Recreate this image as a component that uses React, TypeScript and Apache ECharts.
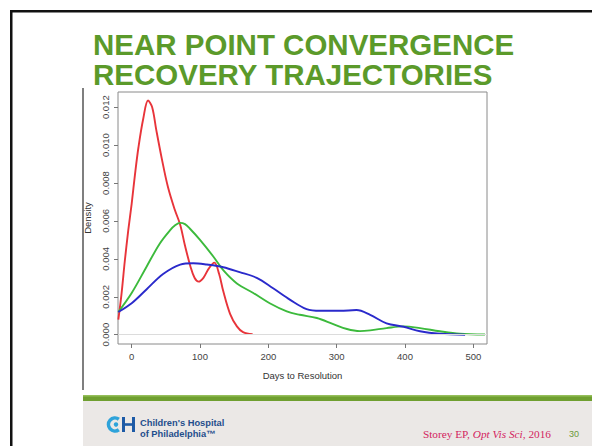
import React, { useEffect, useRef } from "react";
import * as echarts from "echarts";

// ---- Data (days to resolution vs. density) ----
const redDays = [-19.5, -15, -10, -5, 0, 5, 10, 17, 24, 30, 36, 44, 53, 63, 71, 78, 86, 92, 98, 105, 113, 121, 128, 134, 144, 154, 163, 177];
const redDensity = [0.0008, 0.0021, 0.0039, 0.0055, 0.0069, 0.0085, 0.0099, 0.0114, 0.01235, 0.012, 0.0108, 0.0093, 0.0078, 0.0066, 0.0058, 0.0047, 0.0036, 0.003, 0.0028, 0.003, 0.0035, 0.0038, 0.0032, 0.0023, 0.0011, 0.00044, 0.00014, 0.00003];

const greenDays = [-19.5, 0, 22, 41, 56, 64, 71, 78, 85, 100, 120, 134, 154, 178, 202, 227, 246, 271, 295, 315, 334, 349, 373, 398, 422, 451, 480, 517];
const greenDensity = [0.0012, 0.0022, 0.0036, 0.0048, 0.0055, 0.00578, 0.0059, 0.00583, 0.0056, 0.005, 0.0041, 0.0034, 0.0027, 0.0022, 0.00166, 0.00123, 0.00105, 0.00088, 0.00056, 0.0003, 0.00019, 0.00023, 0.00035, 0.00044, 0.00035, 0.00018, 0.00005, 0.00001];

const blueDays = [-19.5, 0, 22, 46, 71, 90, 110, 134, 158, 183, 207, 232, 256, 276, 305, 329, 349, 373, 398, 422, 451, 488];
const blueDensity = [0.0012, 0.00166, 0.0024, 0.0032, 0.0037, 0.00377, 0.0037, 0.00356, 0.0033, 0.003, 0.00245, 0.00184, 0.00135, 0.00126, 0.00126, 0.0013, 0.00105, 0.0006, 0.00042, 0.00018, 0.00005, 0.0];

const xTicks = [0, 100, 200, 300, 400, 500];
const yTicks = [0, 0.002, 0.004, 0.006, 0.008, 0.01, 0.012];

const titleLines = ["NEAR POINT CONVERGENCE", "RECOVERY TRAJECTORIES"];
const xName = "Days to Resolution";
const yName = "Density";

const pairs = (xs: number[], ys: number[]) => xs.map((x, i) => [x, ys[i]]);

export default function App() {
  const ref = useRef<HTMLDivElement>(null);

  useEffect(() => {
    if (!ref.current) return;
    const chart = echarts.init(ref.current, null, { renderer: "svg" });
    const axisFont = "'Liberation Sans', Arial, sans-serif";

    const lineSeries = (name: string, data: number[][], color: string) => ({
      name,
      type: "line",
      data,
      smooth: 0.35,
      showSymbol: false,
      symbol: "none",
      lineStyle: { color, width: 1.9 },
      z: 3,
    });

    chart.setOption({
      animation: false,
      backgroundColor: "#ffffff",
      grid: {
        left: 118,
        top: 92,
        width: 369,
        height: 252,
        show: true,
        borderColor: "#8a8a8a",
        borderWidth: 1,
        backgroundColor: "transparent",
      },
      xAxis: {
        type: "value",
        min: -20,
        max: 520,
        axisLine: { show: false, onZero: false },
        axisTick: { show: true, inside: false, length: 4, customValues: xTicks, lineStyle: { color: "#777" } },
        axisLabel: { customValues: xTicks, fontSize: 9.5, color: "#444", margin: 7, fontFamily: axisFont },
        splitLine: { show: false },
        name: xName,
        nameLocation: "middle",
        nameGap: 26,
        nameTextStyle: { fontSize: 9.5, color: "#333", fontFamily: axisFont },
      },
      yAxis: {
        type: "value",
        min: -0.00049,
        max: 0.0128,
        axisLine: { show: false, onZero: false },
        axisTick: { show: true, inside: false, length: 4, customValues: yTicks, lineStyle: { color: "#777" } },
        axisLabel: {
          customValues: yTicks,
          rotate: 90,
          fontSize: 9.5,
          color: "#444",
          margin: 8,
          fontFamily: axisFont,
          formatter: (v: number) => v.toFixed(3),
        },
        splitLine: { show: false },
        name: yName,
        nameLocation: "middle",
        nameRotate: 90,
        nameGap: 25,
        nameTextStyle: { fontSize: 9.5, color: "#333", fontFamily: axisFont },
      },
      series: [
        {
          ...lineSeries("red", pairs(redDays, redDensity), "#e8343a"),
          markLine: {
            silent: true,
            symbol: "none",
            label: { show: false },
            lineStyle: { color: "#dcdcdc", width: 1, type: "solid" },
            data: [{ yAxis: 0 }],
          },
        },
        lineSeries("green", pairs(greenDays, greenDensity), "#3cba3c"),
        lineSeries("blue", pairs(blueDays, blueDensity), "#2a2acb"),
      ],
      graphic: [
        // slide frame
        { type: "rect", shape: { x: 10, y: 10, width: 582, height: 2.5 }, style: { fill: "#111" }, silent: true },
        { type: "rect", shape: { x: 10, y: 10, width: 2.5, height: 436 }, style: { fill: "#111" }, silent: true },
        // pasted image left edge
        { type: "line", shape: { x1: 83, y1: 88, x2: 83, y2: 390 }, style: { stroke: "#555", lineWidth: 1.5 }, silent: true },
        // title
        {
          type: "text",
          x: 93,
          y: 44,
          style: {
            text: titleLines[0],
            font: "bold 29.5px 'Liberation Sans', Arial, sans-serif",
            fill: "#5b9a2a",
            verticalAlign: "middle",
          },
        },
        {
          type: "text",
          x: 93,
          y: 74,
          style: {
            text: titleLines[1],
            font: "bold 29.5px 'Liberation Sans', Arial, sans-serif",
            fill: "#5b9a2a",
            verticalAlign: "middle",
          },
        },
        // footer
        { type: "rect", shape: { x: 83, y: 395, width: 509, height: 51 }, style: { fill: "#ebe8e6" }, silent: true },
        { type: "rect", shape: { x: 83, y: 395, width: 509, height: 6 }, style: { fill: "#6f9f30" }, silent: true },
        { type: "rect", shape: { x: 83, y: 395, width: 509, height: 1.5 }, style: { fill: "#95bf5a" }, silent: true },
        // CHOP logo
        {
          type: "arc",
          shape: { cx: 115, cy: 424.5, r: 6.5, startAngle: Math.PI * 0.3, endAngle: Math.PI * 1.7, clockwise: true },
          style: { stroke: "#2ea3da", lineWidth: 3.6, fill: "none" },
        },
        { type: "circle", shape: { cx: 116, cy: 424.5, r: 2.2 }, style: { fill: "#2ea3da" } },
        { type: "rect", shape: { x: 122, y: 417, width: 3, height: 15 }, style: { fill: "#1d5aa6" } },
        { type: "rect", shape: { x: 132, y: 417, width: 3, height: 15 }, style: { fill: "#1d5aa6" } },
        { type: "rect", shape: { x: 122, y: 423.2, width: 12, height: 2.6 }, style: { fill: "#1d5aa6" } },
        {
          type: "text",
          x: 140,
          y: 422.5,
          style: { text: "Children's Hospital", font: "bold 9.3px 'Liberation Sans', Arial, sans-serif", fill: "#1f4e8c", verticalAlign: "middle" },
        },
        {
          type: "text",
          x: 140,
          y: 434,
          style: { text: "of Philadelphia™", font: "bold 9.3px 'Liberation Sans', Arial, sans-serif", fill: "#1f4e8c", verticalAlign: "middle" },
        },
        // citation
        {
          type: "text",
          x: 551,
          y: 434,
          style: {
            text: "{r|Storey EP, }{i|Opt Vis Sci}{r|, 2016}",
            align: "right",
            verticalAlign: "middle",
            rich: {
              r: { fontFamily: "'Liberation Serif', 'Times New Roman', serif", fontSize: 11.3, fill: "#d3245f" },
              i: { fontFamily: "'Liberation Serif', 'Times New Roman', serif", fontSize: 11.3, fontStyle: "italic", fill: "#d3245f" },
            },
          },
        },
        {
          type: "text",
          x: 574,
          y: 434,
          style: { text: "30", font: "9px 'Liberation Sans', Arial, sans-serif", fill: "#6a9a3a", align: "center", verticalAlign: "middle" },
        },
      ],
    });

    return () => chart.dispose();
  }, []);

  return (
    <div
      ref={ref}
      style={{ position: "fixed", left: 0, top: 0, width: 592, height: 446 }}
    />
  );
}
